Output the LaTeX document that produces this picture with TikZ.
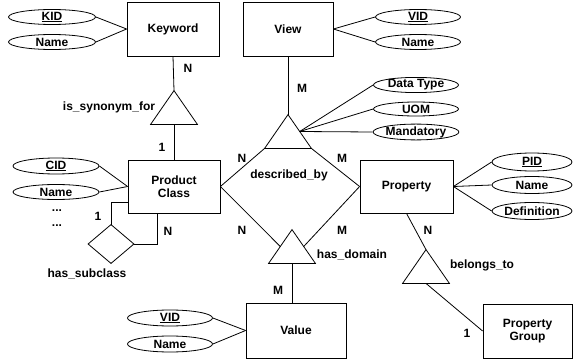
\documentclass[tikz,border=0pt]{standalone}
\usepackage{fontspec}
\setmainfont{Liberation Sans}
\usetikzlibrary{calc,shapes.geometric}

\begin{document}
\begin{tikzpicture}[x=1pt,y=-1pt,line width=0.8pt,
  font={\fontsize{12}{13.5}\selectfont\bfseries},
  entity/.style={draw,rectangle,inner sep=0pt,align=center},
  attr/.style={draw,ellipse,inner sep=0pt,minimum width=85pt,minimum height=15pt},
  rel/.style={inner sep=0pt,minimum width=46pt,minimum height=33pt},
  card/.style={inner sep=1pt}]
\useasboundingbox (0,0) rectangle (573,361);

% entities
\node[entity,minimum width=92pt,minimum height=54pt] (keyword) at (173,29) {Keyword};
\node[entity,minimum width=90pt,minimum height=54pt] (view) at (288,29) {View};
\node[entity,minimum width=92pt,minimum height=53pt] (pclass) at (174,186.5) {Product\\Class};
\node[entity,minimum width=93pt,minimum height=53pt] (property) at (406.5,186.5) {Property};
\node[entity,minimum width=100pt,minimum height=55pt] (value) at (296,330.5) {Value};
\node[entity,minimum width=89pt,minimum height=54pt] (pgroup) at (527.5,331) {Property\\Group};

% relationships
\node[rel] (synonym) at (174,107.5) {};
\node[rel] (describe) at (288,131.5) {};
\node[rel] (domain) at (292,246.5) {};
\node[rel] (belongs) at (426,266.5) {};
\node[rel,minimum width=45pt,minimum height=38pt] (subclass) at (111,244) {};
\foreach \t in {synonym,describe,domain,belongs}
  \draw (\t.north) -- (\t.south west) -- (\t.south east) -- cycle;
\draw (subclass.north) -- (subclass.east) -- (subclass.south) -- (subclass.west) -- cycle;

% attributes
\node[attr,minimum width=87pt] (kid) at (52,17) {\underline{KID}};
\node[attr,minimum width=87pt] (kname) at (52,42) {Name};
\node[attr] (vid) at (418,17) {\underline{VID}};
\node[attr] (vname) at (418,42) {Name};
\node[attr,minimum height=14pt] (dtype) at (416,85) {Data Type};
\node[attr,minimum height=14pt] (uom) at (416,109) {UOM};
\node[attr,minimum height=14pt] (mand) at (416,132) {Mandatory};
\node[attr,minimum width=86pt,minimum height=16pt] (cid) at (56,166) {\underline{CID}};
\node[attr,minimum width=86pt] (cname) at (56,192) {Name};
\node[attr,minimum height=16pt] (valid) at (170,318) {\underline{VID}};
\node[attr,minimum height=16pt] (valname) at (170,344) {Name};
\node[attr,minimum width=80pt,minimum height=18pt] (pid) at (532,162) {\underline{PID}};
\node[attr,minimum width=80pt,minimum height=17pt] (pname) at (532,185) {Name};
\node[attr,minimum width=80pt,minimum height=17pt] (pdef) at (532,211) {Definition};

\foreach \a in {kid,kname} \draw (\a.east) -- (keyword.west);
\foreach \a in {vid,vname} \draw (\a.west) -- (view.east);
\foreach \a in {cid,cname} \draw (\a.east) -- (pclass.west);
\foreach \a in {valid,valname} \draw (\a.east) -- (value.west);
\foreach \a in {pid,pname,pdef} \draw (\a.west) -- (property.east);
\foreach \a in {dtype,uom,mand}
  \draw ($(describe.north)!0.5!(describe.south east)$) -- (\a.west);

% connectors
\draw (keyword.south) -- (synonym.north);
\draw (synonym.south) -- (synonym.south |- pclass.north);
\draw (view.south) -- (describe.north);
\draw (pclass.east) -- (describe.south west);
\draw (property.west) -- (describe.south east);
\draw (pclass.east) -- ($(domain.north)!0.5!(domain.south west)$);
\draw (property.west) -- ($(domain.north)!0.5!(domain.south east)$);
\draw (domain.south) -- (domain.south |- value.north);
\draw (subclass.north) |- ($(pclass.south west)!0.2!(pclass.north west)$);
\draw (subclass.east) -| ($(pclass.south west)!0.32!(pclass.south east)$);
\draw (property.south) -- (belongs.north);
\draw (belongs.south) -- (pgroup.west);

% cardinalities
\node[card] (c1) at (188,68) {N};
\node[card] (c2) at (162,147) {1};
\node[card] (c3) at (302,88) {M};
\node[card] (c4) at (242,158) {N};
\node[card] (c5) at (342,158) {M};
\node[card] (c6) at (242,230) {N};
\node[card] (c7) at (342,230) {M};
\node[card] (c8) at (278,290) {M};
\node[card] (c9) at (98,216) {1};
\node[card] (c10) at (168,231) {N};
\node[card] (c11) at (428,230) {N};
\node[card] (c12) at (467,333) {1};

% relationship names
\node (lsyn) at (109,107) {is\_synonym\_for};
\node (ldesc) at (289,175) {described\_by};
\node (ldom) at (352,255) {has\_domain};
\node (lsub) at (87,274) {has\_subclass};
\node (lbel) at (482,265) {belongs\_to};
\node (dots1) at (57,211) {...};
\node (dots2) at (57,226) {...};
\end{tikzpicture}
\end{document}
